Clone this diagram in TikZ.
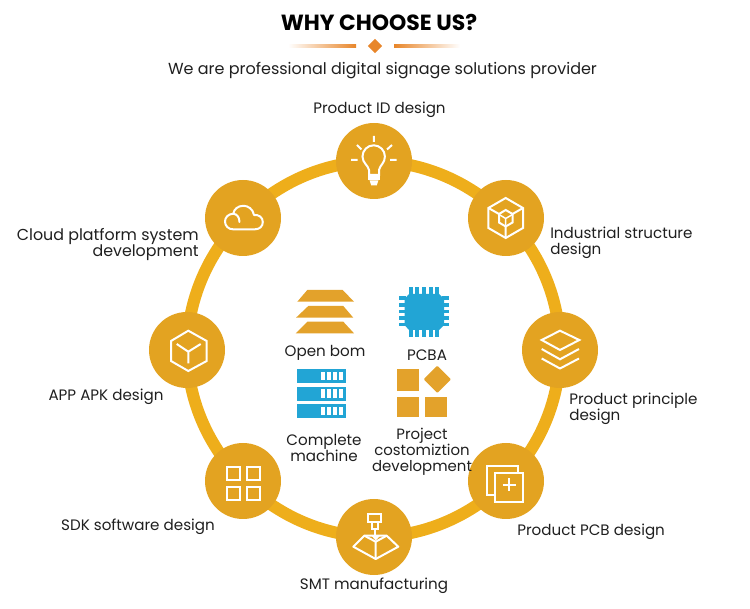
\documentclass[tikz,border=0pt]{standalone}
\usepackage{fontspec}
\setmainfont{Poppins}
\usetikzlibrary{backgrounds}
\definecolor{ringc}{HTML}{EEAE1B}
\definecolor{discc}{HTML}{E3A321}
\definecolor{blue}{HTML}{22A5D5}
\definecolor{gold}{HTML}{E3A22B}
\definecolor{deco}{HTML}{E8862A}
\tikzset{
  disc/.style={circle,fill=discc,minimum size=57pt,inner sep=0pt,outer sep=0pt},
  ringarc/.style={draw=ringc,line width=9pt,bend left=22.5,looseness=0.885},
  lab/.style={font=\fontsize{11.35}{12}\selectfont,inner sep=0pt,text=black!88,align=center},
  labl/.style={lab,anchor=west,align=left},
  labr/.style={lab,anchor=east,align=right},
  ico/.style={draw=white,line width=1.5pt,line join=miter},
  icothin/.style={draw=white,line width=1.1pt}
}
\begin{document}
\begin{tikzpicture}[x=0.75pt,y=-0.75pt]
\useasboundingbox (0,0) rectangle (750,609);
% discs
\node[disc] (top) at (374,161) {};
\node[disc] (ind) at (506,218) {};
\node[disc] (pri) at (560,350) {};
\node[disc] (pcb) at (506,481) {};
\node[disc] (smt) at (374,537) {};
\node[disc] (sdk) at (243,481) {};
\node[disc] (app) at (187,350) {};
\node[disc] (cld) at (243,218) {};
\begin{pgfonlayer}{background}
\draw[ringarc] (top.center) to (ind.center);
\draw[ringarc] (ind.center) to (pri.center);
\draw[ringarc] (pri.center) to (pcb.center);
\draw[ringarc] (pcb.center) to (smt.center);
\draw[ringarc] (smt.center) to (sdk.center);
\draw[ringarc] (sdk.center) to (app.center);
\draw[ringarc] (app.center) to (cld.center);
\draw[ringarc] (cld.center) to (top.center);
\end{pgfonlayer}
% header
\node[font=\fontsize{16.45}{18}\bfseries\selectfont,inner sep=0pt] (title) at (379,22) {WHY CHOOSE US?};
\node[font=\fontsize{12}{14}\selectfont,inner sep=0pt,text=black!88] (sub) at (382.5,71) {We are professional digital signage solutions provider};
\fill[left color=white,right color=deco] (288,44.2) rectangle (356,47.8);
\fill[right color=white,left color=deco] (394,44.2) rectangle (460,47.8);
\fill[deco] (375,38.8) -- (382.2,46) -- (375,53.2) -- (367.8,46) -- cycle;
% bulb
\draw[ico] (369,175) -- (369,170) .. controls (368,165) and (362.5,163) .. (362.5,156.5)
  arc[start angle=180,end angle=360,radius=11.2] .. controls (385,163) and (380,165) .. (379,170) -- (379,175) -- cycle;
\draw[ico,fill=white] (369,177) rectangle (379,179.5);
\draw[ico,fill=white] (371,181.5) -- (377,181.5) -- (376,184.5) -- (372,184.5) -- cycle;
\draw[ico] (373.8,136) -- (373.8,142) (351,160) -- (357.5,160) (390,160) -- (396.5,160)
  (357,145) -- (361.5,149.5) (392,145) -- (387,149.5);
% hex cube
\draw[ico] (505.7,198) -- (523,208) -- (523,228) -- (505.7,238) -- (488.4,228) -- (488.4,208) -- cycle;
\draw[ico] (488.4,208) -- (499,214) (523,208) -- (512.5,214) (505.7,238) -- (505.7,226.5);
\draw[ico] (505.7,210) -- (512.5,214) -- (512.5,222.5) -- (505.7,226.5) -- (499,222.5) -- (499,214) -- cycle;
\draw[icothin] (499,214.5) -- (505.7,218.5) -- (512.5,214.5) (505.7,218.5) -- (505.7,226);
% stack
\draw[ico] (560,330.7) -- (579.3,340) -- (560,350) -- (541.7,340) -- cycle;
\draw[ico] (541.7,349) -- (560,359.3) -- (579,349);
\draw[ico] (541.7,358.5) -- (560,368.5) -- (579,358.5);
% pcb
\draw[ico] (495,495) -- (487.3,495) -- (487.3,466) -- (518.3,466) -- (518.3,473.3);
\draw[ico] (495,473.3) rectangle (523.3,502.3);
\draw[ico] (509,478.5) -- (509,491.5) (502.5,485) -- (515.5,485);
% smt
\draw[ico] (368.3,514.3) rectangle (381,521.7);
\draw[ico] (371.7,521.7) rectangle (378,529.3);
\draw[ico,line join=round] (364.3,535.7) -- (386.7,535.7) -- (398.3,546.7) -- (375.7,559) -- (353.3,546.7) -- cycle;
\draw[ico] (375.7,541.7) -- (375.7,559) (364.3,535.7) -- (375.7,541.7) -- (386.7,535.7);
\draw[white,fill=white] (371.5,535.5) -- (380,535.5) -- (375.7,540) -- cycle;
\draw[ico] (375,529.3) -- (375,535.5);
% grid
\draw[ico] (226.7,466.7) rectangle (240,480);
\draw[ico] (246.7,466.7) rectangle (260,480);
\draw[ico] (226.7,486.7) rectangle (240,500);
\draw[ico] (246.7,486.7) rectangle (260,500);
% cube
\draw[ico] (188.3,330.7) -- (206.7,341) -- (206.7,361) -- (188.3,371) -- (171,361) -- (171,341) -- cycle;
\draw[ico] (176.7,344) -- (188.3,351.7) -- (200.7,344) (188.3,351.7) -- (188.3,363.5);
% cloud
\draw[ico,line join=round] (233,229.3) -- (255,229.3) .. controls (260,229.3) and (262.8,226) .. (262.8,222)
  .. controls (262.8,217.5) and (259,214.5) .. (254,215) .. controls (253,209) and (248,205.8) .. (243.5,205.8)
  .. controls (238,205.8) and (234,209) .. (233.3,213.7) .. controls (228,214) and (225,217.5) .. (225,221.5)
  .. controls (225,226) and (228.5,229.3) .. cycle;
\draw[ico,line cap=round] (233.3,213.7) .. controls (237,214) and (239.5,217.5) .. (239.5,222);
% central icons
\fill[gold] (307.3,290) -- (342.7,290) -- (354,301.7) -- (297.3,301.7) -- cycle;
\fill[gold] (308.3,306) -- (343.3,306) -- (353.3,317.7) -- (296,317.7) -- cycle;
\fill[gold] (307.3,321.7) -- (343.3,321.7) -- (354,333.3) -- (295.7,333.3) -- cycle;
% chip
\fill[blue] (409,294) -- (439,294) -- (444,299) -- (444,325) -- (439,330) -- (409,330) -- (404.5,325) -- (404.5,299) -- cycle;
\foreach \d in {0,1,2,3,4}{
  \fill[blue] ({408.8+6.6*\d},286.7) rectangle ++(4,9);
  \fill[blue] ({408.8+6.6*\d},328) rectangle ++(4,9);
  \fill[blue] (399,{296.5+6.6*\d}) rectangle ++(7,3.6);
  \fill[blue] (442,{296.5+6.6*\d}) rectangle ++(7,3.6);
}
% server
\foreach \y in {369.3,386.7,404}{
  \fill[blue] (297.3,\y) rectangle (346,\y+14);
  \foreach \x in {320.7,326.7,332.7,338.7}{
    \fill[white] (\x,\y+2.8) rectangle (\x+4.3,\y+11.2);
  }
}
% squares
\fill[gold] (397.3,369.3) rectangle (418.7,390.7);
\fill[gold] (397.3,396.7) rectangle (418.7,417.3);
\fill[gold] (425.3,396.7) rectangle (446.7,417.3);
\fill[gold,draw=gold,line width=1.5pt,line join=round] (437.3,367) -- (449.6,379.3) -- (437.3,391.6) -- (425,379.3) -- cycle;
% labels
\node[lab] (l1) at (379.5,110) {Product ID design};
\node[labl] (l2) at (550,242.5) {Industrial structure\\design};
\node[labl] (l3) at (569,409) {Product principle\\design};
\node[labl] (l4) at (517,532) {Product PCB design};
\node[lab] (l5) at (374,586) {SMT manufacturing};
\node[lab] (l6) at (138,527) {SDK software design};
\node[lab] (l7) at (106,397) {APP APK design};
\node[labr,font=\fontsize{11.9}{12}\selectfont] (l8) at (199,245) {Cloud platform system\\development};
\node[lab] (c1) at (325,353) {Open bom};
\node[lab] (c2) at (427,355) {PCBA};
\node[lab] (c3) at (324,448) {Complete\\machine};
\node[lab,font=\fontsize{11.2}{12}\selectfont] (c4) at (422,451.5) {Project\\costomiztion\\development};
\end{tikzpicture}
\end{document}
